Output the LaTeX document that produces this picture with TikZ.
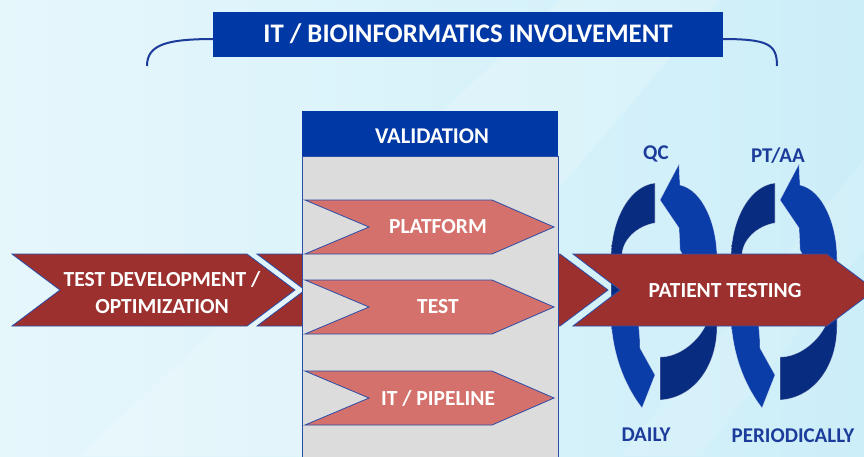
\documentclass[tikz,border=0pt]{standalone}
\usepackage{fontspec}
\setmainfont{Carlito}
\usetikzlibrary{positioning}

\definecolor{skylight}{HTML}{E6F7FC}
\definecolor{skydeep}{HTML}{CCEEF9}
\definecolor{headblue}{HTML}{0039A6}
\definecolor{edgeblue}{HTML}{2A4DA8}
\definecolor{maroon}{HTML}{9B302E}
\definecolor{pinkred}{HTML}{D5716C}
\definecolor{valgrey}{HTML}{DCDCDC}
\definecolor{labelblue}{HTML}{1C3C9C}
\definecolor{arrowdark}{HTML}{072C80}
\definecolor{arrowlight}{HTML}{0A3DA8}

% dark tail on top, lighter head below
\pgfdeclareverticalshading{tailtohead}{100bp}{color(0bp)=(arrowlight); color(49bp)=(arrowlight); color(51bp)=(arrowdark); color(100bp)=(arrowdark)}

\tikzset{
  banner/.style={fill=maroon, draw=edgeblue, line width=0.8pt},
  subchev/.style={fill=pinkred, draw=edgeblue, line width=0.8pt},
  bartext/.style={text=white, font=\bfseries\fontsize{21.5}{27}\selectfont, align=center},
  looplabel/.style={text=labelblue, font=\bfseries\fontsize{21}{25}\selectfont},
  cyclearrow/.style={shading=tailtohead, draw=white, draw opacity=0.5, line width=0.6pt}
}

\begin{document}
\begin{tikzpicture}[x=1pt, y=-1pt]

\clip (0,0) rectangle (864,456);
\shade[left color=skylight, right color=skydeep] (0,0) rectangle (864,456);
% faint diagonal streaks
\fill[white, opacity=0.18] (80,456) -- (330,456) -- (720,0) -- (560,0) -- cycle;
\fill[white, opacity=0.12] (620,456) -- (700,456) -- (864,250) -- (864,160) -- cycle;

% title with its brace
\draw[labelblue, line width=2pt] (147,66) .. controls (147,44) and (168,39) .. (215,39);
\draw[labelblue, line width=2pt] (721,39) .. controls (768,39) and (777,44) .. (777,66);
\node[fill=headblue, minimum width=510, minimum height=45, inner sep=0,
      text=white, font=\bfseries\fontsize{26.8}{32}\selectfont] (title) at (468,34)
  {IT / BIOINFORMATICS INVOLVEMENT};

% main flow banner, running behind the validation column
\draw[banner] (257,254) -- (560,254) -- (608,290) -- (560,326) -- (257,326) -- (305,290) -- cycle;
\draw[banner] (12,254) -- (247,254) -- (295,290) -- (247,326) -- (12,326) -- (60,290) -- cycle;
\node[bartext] (dev) at (162,293) {TEST DEVELOPMENT /\\OPTIMIZATION};

% validation column
\draw[fill=valgrey, draw=edgeblue, line width=0.8pt] (302,156) rectangle (558,470);
\fill[headblue] (302,111) rectangle (558,156);
\node[text=white, font=\bfseries\fontsize{22.5}{27}\selectfont] (val) at (432,136.5) {VALIDATION};

\foreach \y/\name/\txt in {227/platform/PLATFORM, 307/test/TEST, 398/pipeline/{IT / PIPELINE}} {
  \draw[subchev] (305,\y-27) -- (492,\y-27) -- (554,\y) -- (492,\y+27) -- (305,\y+27) -- (369,\y) -- cycle;
  \node[bartext] (\name) at (438,\y) {\txt};
}

% the two repeating cycles
\foreach \dx in {0,120} {
  \begin{scope}[shift={(\dx,0)}]
    \path[cyclearrow] (655,183) .. controls (628,186) and (611,222) .. (611,258)
      -- (611,320) .. controls (613,360) and (628,390) .. (642,408)
      -- (655,375) -- (640,348) .. controls (640,300) and (622,280) .. (622,256)
      .. controls (622,240) and (637,226) .. (655,223) -- cycle;
    \path[cyclearrow, shading angle=180] (660,400) -- (660,357)
      .. controls (680,357) and (700,340) .. (707,322)
      .. controls (712,300) and (690,270) .. (680,250)
      -- (679,228) -- (660,200) -- (679,164) -- (680,185)
      .. controls (703,190) and (717,225) .. (717,258)
      -- (717,327) .. controls (717,365) and (695,398) .. (660,400) -- cycle;
  \end{scope}
}

\draw[banner] (573,254) -- (827,254) -- (875,290) -- (827,326) -- (573,326) -- (620,290) -- cycle;
\node[bartext] (patient) at (725,291) {PATIENT TESTING};

\node[looplabel] (qc) at (656,154) {QC};
\node[looplabel] (ptaa) at (778,156) {PT/AA};
\node[looplabel] (daily) at (646,435) {DAILY};
\node[looplabel] (periodic) at (793,436) {PERIODICALLY};

\end{tikzpicture}
\end{document}
